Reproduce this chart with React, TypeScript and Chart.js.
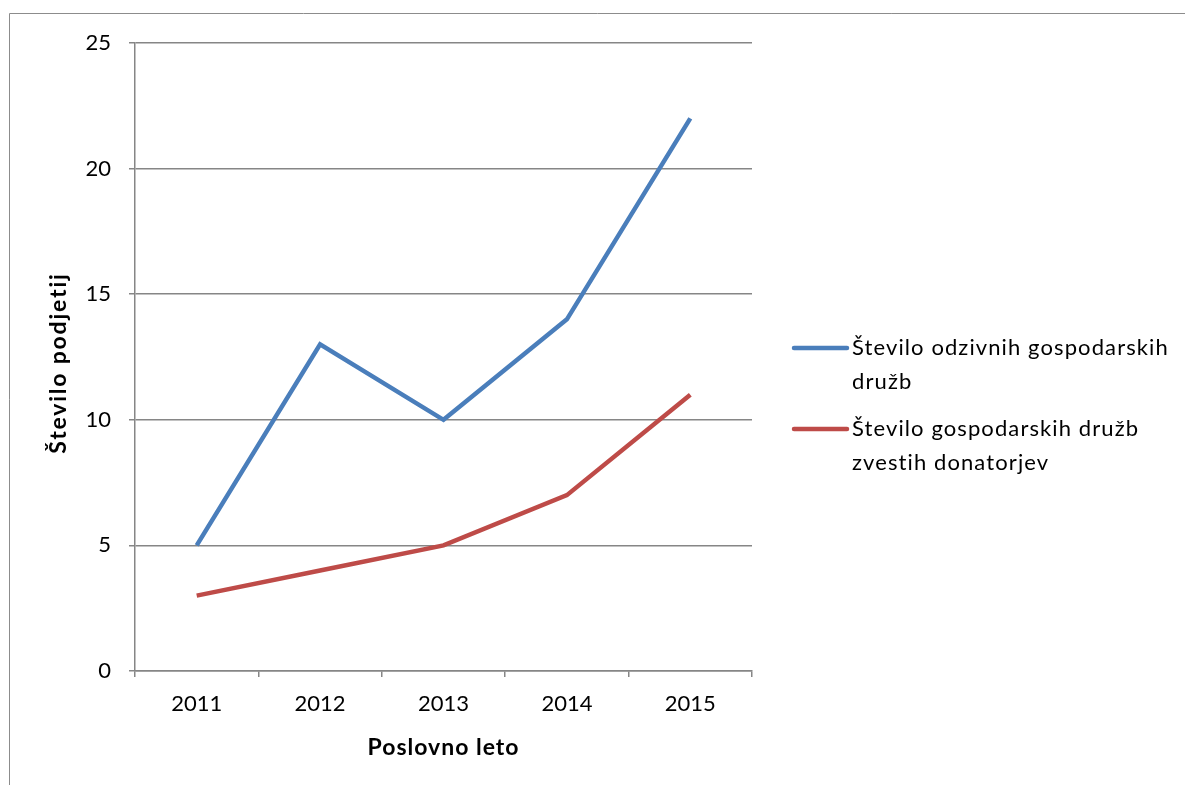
import React, { useEffect, useRef } from "react";
import { Chart, registerables } from "chart.js";

Chart.register(...registerables);

const years = ["2011", "2012", "2013", "2014", "2015"];
const responsiveCompanies = [5, 13, 10, 14, 22];
const donorCompanies = [3, 4, 5, 7, 11];
const seriesNames = [
  ["Število odzivnih gospodarskih", "družb"],
  ["Število gospodarskih družb", "zvestih donatorjev"],
];
const yMin = 0;
const yMax = 25;
const yStep = 5;
const xTitle = "Poslovno leto";
const yTitle = "Število podjetij";

const BLUE = "#4a7ebb";
const RED = "#be4b48";
const GRID = "#868686";
const FONT = "Lato, 'Open Sans', sans-serif";

const framePlugin = {
  id: "frame",
  beforeDraw(chart: any) {
    const ctx = chart.ctx;
    ctx.save();
    ctx.strokeStyle = "#8c8c8c";
    ctx.lineWidth = 1;
    ctx.beginPath();
    ctx.moveTo(9.5, chart.height);
    ctx.lineTo(9.5, 13.5);
    ctx.lineTo(chart.width, 13.5);
    ctx.stroke();
    ctx.restore();
  },
};

const titlesPlugin = {
  id: "axisTitles",
  afterDraw(chart: any) {
    const ctx = chart.ctx;
    const { left, right, top, bottom } = chart.chartArea;
    ctx.save();
    ctx.fillStyle = "#000";
    ctx.textAlign = "center";
    ctx.textBaseline = "middle";
    ctx.font = `bold 23px ${FONT}`;
    (ctx as any).letterSpacing = "1px";
    ctx.fillText(xTitle, (left + right) / 2, bottom + 77);
    (ctx as any).letterSpacing = "1.8px";
    ctx.translate(left - 76, (top + bottom) / 2 + 6);
    ctx.rotate(-Math.PI / 2);
    ctx.fillText(yTitle, 0, 0);
    ctx.restore();
  },
};

const legendPlugin = {
  id: "sideLegend",
  afterDraw(chart: any) {
    const ctx = chart.ctx;
    const { right, top } = chart.chartArea;
    const colors = [BLUE, RED];
    const lineH = 33.5;
    const itemStarts = [top + 305, top + 386];
    ctx.save();
    ctx.font = `22px ${FONT}`;
    (ctx as any).letterSpacing = "1.1px";
    ctx.textBaseline = "middle";
    ctx.textAlign = "left";
    ctx.fillStyle = "#000";
    seriesNames.forEach((lines, i) => {
      const y = itemStarts[i];
      ctx.strokeStyle = colors[i];
      ctx.lineWidth = 4.5;
      ctx.lineCap = "round";
      ctx.beginPath();
      ctx.moveTo(right + 42, y);
      ctx.lineTo(right + 95, y);
      ctx.stroke();
      lines.forEach((t, j) => ctx.fillText(t, right + 100, y + j * lineH));
    });
    ctx.restore();
  },
};

export default function App() {
  const ref = useRef<HTMLCanvasElement>(null);
  useEffect(() => {
    if (!ref.current) return;
    const chart = new Chart(ref.current, {
      type: "line",
      data: {
        labels: years,
        datasets: [
          {
            label: seriesNames[0].join(" "),
            data: responsiveCompanies,
            borderColor: BLUE,
            backgroundColor: BLUE,
            borderWidth: 4.5,
            pointRadius: 0,
            tension: 0,
          },
          {
            label: seriesNames[1].join(" "),
            data: donorCompanies,
            borderColor: RED,
            backgroundColor: RED,
            borderWidth: 4.5,
            pointRadius: 0,
            tension: 0,
          },
        ],
      },
      options: {
        animation: false,
        responsive: false,
        devicePixelRatio: 1,
        layout: { padding: { left: 0, top: 43, right: 433, bottom: 0 } },
        plugins: { legend: { display: false }, tooltip: { enabled: false } },
        scales: {
          x: {
            type: "category",
            offset: true,
            grid: {
              offset: true,
              drawOnChartArea: false,
              drawTicks: true,
              tickLength: 6,
              color: GRID,
              lineWidth: 1.5,
            },
            border: { color: GRID, width: 1.5 },
            ticks: { color: "#000", font: { family: FONT, size: 22 }, padding: 14 },
            afterFit(scale: any) {
              scale.height = 114;
            },
          },
          y: {
            min: yMin,
            max: yMax,
            ticks: {
              stepSize: yStep,
              color: "#000",
              font: { family: FONT, size: 22 },
              padding: 18,
            },
            grid: { color: GRID, tickLength: 6, lineWidth: 1.5 },
            border: { color: GRID, width: 1.5 },
            afterFit(scale: any) {
              scale.width = 135;
            },
          },
        },
      },
      plugins: [framePlugin, titlesPlugin, legendPlugin],
    });
    return () => chart.destroy();
  }, []);
  return (
    <div style={{ position: "fixed", left: 0, top: 0, width: 1185, height: 785, background: "#fff" }}>
      <canvas ref={ref} width={1185} height={785} style={{ display: "block" }} />
    </div>
  );
}
